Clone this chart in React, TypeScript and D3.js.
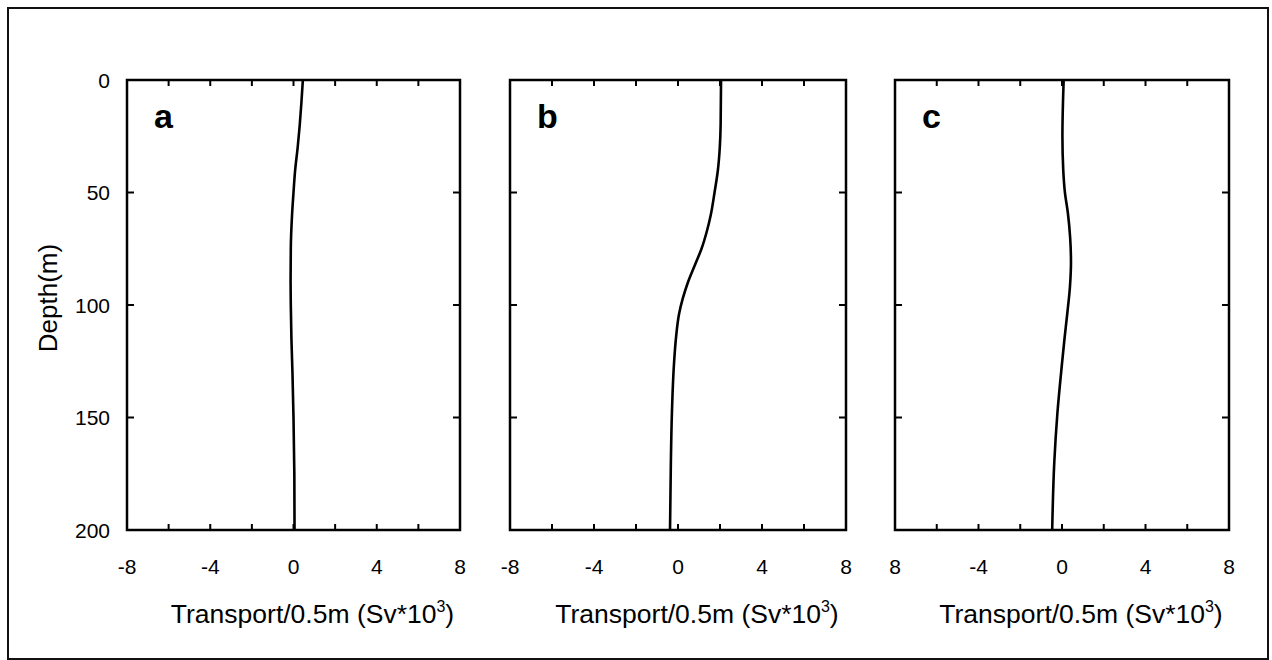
import React from "react";
import * as d3 from "d3";

const depthTicks = [0, 50, 100, 150, 200];
const xTickLabelsA = ["-8", "-4", "0", "4", "8"];
const xTickLabelsB = ["-8", "-4", "0", "4", "8"];
const xTickLabelsC = ["8", "-4", "0", "4", "8"];
const xTickValues = [-8, -4, 0, 4, 8];
const xMinorTicks = [-6, -4, -2, 0, 2, 4, 6];
const yInnerTicks = [50, 100, 150];

const depthsA = [0, 10, 20, 30, 40, 50, 60, 75, 90, 100, 115, 130, 150, 175, 200];
const transportA = [0.45, 0.38, 0.3, 0.2, 0.08, 0.0, -0.07, -0.13, -0.14, -0.13, -0.1, -0.05, 0.0, 0.04, 0.05];

const depthsB = [0, 20, 30, 40, 50, 60, 67, 75, 81, 90, 104, 115, 126, 148, 170, 200];
const transportB = [2.05, 2.03, 1.99, 1.9, 1.74, 1.56, 1.38, 1.12, 0.86, 0.47, 0.05, -0.1, -0.19, -0.29, -0.34, -0.38];

const depthsC = [0, 25, 40, 50, 59, 70, 81, 92, 104, 115, 126, 148, 170, 200];
const transportC = [0.08, 0.02, 0.06, 0.14, 0.28, 0.39, 0.43, 0.38, 0.25, 0.12, 0.0, -0.22, -0.37, -0.47];

const panelLabels = ["a", "b", "c"];
const xTitle = "Transport/0.5m (Sv*10";
const yTitle = "Depth(m)";

const panels = [
  { label: panelLabels[0], x0: 127, x1: 460, depths: depthsA, vals: transportA, tickLabels: xTickLabelsA, showY: true },
  { label: panelLabels[1], x0: 510, x1: 846, depths: depthsB, vals: transportB, tickLabels: xTickLabelsB, showY: false },
  { label: panelLabels[2], x0: 895, x1: 1229, depths: depthsC, vals: transportC, tickLabels: xTickLabelsC, showY: false },
];

const TOP = 80;
const BOTTOM = 530;
const FONT = "Liberation Sans, Arial, Helvetica, sans-serif";

export default function App() {
  const y = d3.scaleLinear().domain([0, 200]).range([TOP, BOTTOM]);
  return (
    <svg
      width={1272}
      height={660}
      style={{ position: "absolute", left: 0, top: 0, background: "#fff" }}
      fontFamily={FONT}
    >
      <rect x={0} y={0} width={1272} height={660} fill="#fff" />
      <rect x={8} y={8} width={1260} height={651} fill="none" stroke="#111" strokeWidth={2} />
      {panels.map((p, i) => {
        const x = d3.scaleLinear().domain([-8, 8]).range([p.x0, p.x1]);
        const line = d3
          .line<number>()
          .x((v) => x(v))
          .y((_, j) => y(p.depths[j]))
          .curve(d3.curveMonotoneY);
        const cx = (p.x0 + p.x1) / 2;
        return (
          <g key={i}>
            <rect
              x={p.x0}
              y={TOP}
              width={p.x1 - p.x0}
              height={BOTTOM - TOP}
              fill="none"
              stroke="#000"
              strokeWidth={2.5}
            />
            {xMinorTicks.map((t) => (
              <g key={"xt" + t}>
                <line x1={x(t)} x2={x(t)} y1={TOP} y2={TOP + 6} stroke="#000" strokeWidth={2} />
                <line x1={x(t)} x2={x(t)} y1={BOTTOM} y2={BOTTOM - 6} stroke="#000" strokeWidth={2} />
              </g>
            ))}
            {yInnerTicks.map((t) => (
              <g key={"yt" + t}>
                <line x1={p.x0} x2={p.x0 + 7} y1={y(t)} y2={y(t)} stroke="#000" strokeWidth={2} />
                <line x1={p.x1} x2={p.x1 - 7} y1={y(t)} y2={y(t)} stroke="#000" strokeWidth={2} />
              </g>
            ))}
            {xTickValues.map((t, k) => (
              <text
                key={"xl" + t}
                x={x(t)}
                y={566}
                fontSize={21}
                textAnchor="middle"
                dominantBaseline="central"
                fill="#000"
              >
                {p.tickLabels[k]}
              </text>
            ))}
            {p.showY &&
              depthTicks.map((t) => (
                <text
                  key={"yl" + t}
                  x={p.x0 - 17}
                  y={y(t)}
                  fontSize={21}
                  textAnchor="end"
                  dominantBaseline="central"
                  fill="#000"
                >
                  {t}
                </text>
              ))}
            <text x={p.x0 + 27} y={128} fontSize={34} fontWeight="bold" fill="#000">
              {p.label}
            </text>
            <path d={line(p.vals) || ""} fill="none" stroke="#000" strokeWidth={2.6} />
            <text x={cx + 19} y={623} fontSize={26.5} textAnchor="middle" fill="#000">
              {xTitle}
              <tspan fontSize={16} dy={-11}>3</tspan>
              <tspan dy={11}>)</tspan>
            </text>
          </g>
        );
      })}
      <text
        transform={`translate(57, 298) rotate(-90)`}
        fontSize={26}
        textAnchor="middle"
        fill="#000"
      >
        {yTitle}
      </text>
    </svg>
  );
}
